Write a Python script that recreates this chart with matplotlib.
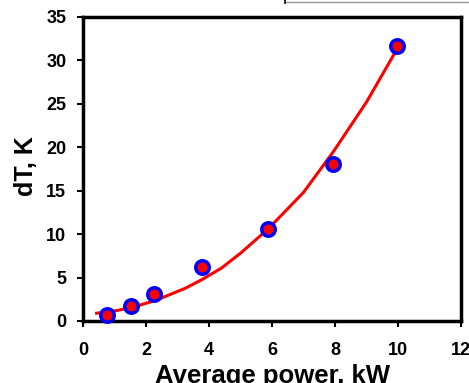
"""Temperature rise vs average power, with fitted trend."""

import matplotlib

matplotlib.use("Agg")
import matplotlib.pyplot as plt
from matplotlib.lines import Line2D

# measured points
power_kw = [0.77, 1.51, 2.25, 3.77, 5.88, 7.95, 9.98]
dt_k = [0.7, 1.7, 3.1, 6.25, 10.6, 18.1, 31.6]

# trend curve
fit_kw = [0.43, 1.0, 1.55, 2.29, 3.24, 3.77, 4.4, 5.0, 5.88, 7.0, 7.95, 9.0, 10.0]
fit_dt = [0.89, 1.15, 1.55, 2.35, 3.75, 4.75, 6.1, 7.8, 10.6, 14.8, 19.5, 25.2, 31.5]

x_ticks = [0, 2, 4, 6, 8, 10, 12]
y_ticks = [0, 5, 10, 15, 20, 25, 30, 35]

plt.rcParams["font.family"] = ["Liberation Sans", "DejaVu Sans"]
plt.rcParams["font.weight"] = "bold"

fig = plt.figure(figsize=(4.69, 3.83), dpi=100)
ax = fig.add_axes([0.177, 0.162, 0.806, 0.794])

ax.plot(fit_kw, fit_dt, color="#ff0000", lw=2.2, zorder=2, solid_joinstyle="round")
ax.plot(power_kw, dt_k, "o", ms=9.7, mfc="#ff0000", mec="#0000ff", mew=2.5, zorder=3, clip_on=False)

ax.set_xlim(0, 12)
ax.set_ylim(0, 35)
ax.set_xticks(x_ticks)
ax.set_yticks(y_ticks)
ax.tick_params(direction="out", length=4, width=1.5, labelsize=13)
ax.tick_params(axis="y", pad=8)
ax.tick_params(axis="x", pad=11)
for spine in ax.spines.values():
    spine.set_linewidth(2.5)

ax.set_xlabel("Average power, kW", fontsize=18.5, fontweight="bold")
ax.set_ylabel("dT, K", fontsize=18, fontweight="bold")
ax.xaxis.set_label_coords(0.5, -0.142)
ax.yaxis.set_label_coords(-0.12, 0.51)

# stray box edge at the top right of the source image
fig.add_artist(Line2D([285 / 469, 1], [1 - 2 / 383, 1 - 2 / 383], color="#999999", lw=1))
fig.add_artist(Line2D([285 / 469, 285 / 469], [1, 1 - 3 / 383], color="black", lw=1.2))

fig.savefig("out.png", dpi=100, facecolor="white")
